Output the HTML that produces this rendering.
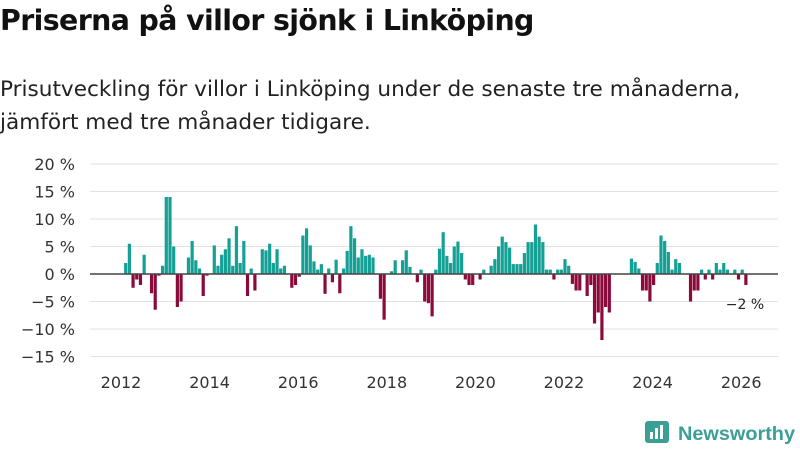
<!DOCTYPE html>
<html><head><meta charset="utf-8"><style>
body{margin:0;width:800px;height:450px;background:#fff;font-family:"Liberation Sans","DejaVu Sans",sans-serif;overflow:hidden;position:relative}
h1{position:absolute;left:0;top:4px;margin:0;font-size:28.4px;font-weight:bold;color:#111;font-family:"DejaVu Sans","Liberation Sans",sans-serif;letter-spacing:-0.6px}
.sub{position:absolute;left:0;top:73px;margin:0;font-size:21.6px;line-height:33px;color:#222;font-family:"DejaVu Sans","Liberation Sans",sans-serif}
svg{position:absolute;left:0;top:0}
</style></head><body>
<h1>Priserna på villor sjönk i Linköping</h1>
<p class="sub">Prisutveckling för villor i Linköping under de senaste tre månaderna,<br>jämfört med tre månader tidigare.</p>
<svg id="chart" width="800" height="450"></svg>
<script>
const values=[2,5.5,-2.5,-1,-2,3.5,0,-3.5,-6.5,-0.3,1.5,14,14,5,-6,-5,0,3,6,2.5,1,-4,-0.3,0,5.2,1.5,3.5,4.5,6.5,1.5,8.7,2,6,-4,1,-3,0,4.5,4.3,5.5,2,4.5,1,1.5,0,-2.5,-2,-0.5,7,8.3,5.2,2.3,0.8,1.8,-3.6,1,-1.5,2.6,-3.5,1,4.2,8.7,6.5,3,4.5,3.3,3.5,3,0,-4.5,-8.3,0,0.5,2.5,0,2.5,4.3,1.3,0,-1.5,0.8,-5,-5.3,-7.7,0.8,4.6,7.6,3.3,2,5,5.9,3.8,-1,-2,-2,0,-1,0.8,0,1.5,2.7,5,6.8,5.8,4.8,1.8,1.8,1.8,3.8,5.8,5.8,9,6.8,5.8,0.8,0.8,-1,0.8,0.8,2.7,1.5,-1.8,-3,-3,0,-4,-2,-9,-7,-12,-6,-7,0,0,0,0,0,2.8,2.2,1,-3,-3,-5,-2,2,7,6,4,0.8,2.7,2,0,0,-5,-3,-3,0.8,-1,0.8,-1,2,0.8,2,0.8,0,0.8,-1,0.8,-2];
const yTicks=[20,15,10,5,0,-5,-10,-15];
const yTickLabels=["20 %","15 %","10 %","5 %","0 %","\u22125 %","\u221210 %","\u221215 %"];
const xTicks=[2012,2014,2016,2018,2020,2022,2024,2026];
const startYear=2012, startMonth=1;
const lastLabel="\u22122 %";
const NS="http://www.w3.org/2000/svg";
const svg=document.getElementById('chart');
const y=v=>274-v*5.5;
const x=m=>121+(m/12)*44.3;
function el(t,a,txt){const e=document.createElementNS(NS,t);for(const k in a)e.setAttribute(k,a[k]);if(txt!=null)e.textContent=txt;svg.appendChild(e);return e;}
yTicks.forEach((t,i)=>{
  const g=el('line',{x1:90,x2:778,y1:y(t),y2:y(t),stroke:'#e2e2e2','stroke-width':1});
  
  
  const l=el('text',{x:75,y:y(t)+6,'text-anchor':'end','font-size':16,fill:'#333','font-family':'DejaVu Sans, Liberation Sans, sans-serif'},yTickLabels[i]);
  
  
});
xTicks.forEach(t=>{
  const l=el('text',{x:x((t-2012)*12),y:388,'text-anchor':'middle','font-size':16,fill:'#333','font-family':'DejaVu Sans, Liberation Sans, sans-serif'},String(t));
  
  
});
values.forEach((v,i)=>{
  const m=(startYear-2012)*12+startMonth+i;
  const cx=x(m)+1;
  const top=Math.min(y(v),y(0)), h=Math.abs(y(v)-y(0));
  const b=el('rect',{x:cx-1.6,y:top,width:3.2,height:h,fill:v>=0?'#15a096':'#8b0a3c'});
  
  
});
const z=el('line',{x1:90,x2:778,y1:y(0),y2:y(0),stroke:'#444','stroke-width':1.6});


const lv=el('text',{x:745,y:309,'text-anchor':'middle','font-size':14,fill:'#222','font-family':'DejaVu Sans, Liberation Sans, sans-serif'},lastLabel);


</script>
<svg width="800" height="450" style="position:absolute;left:0;top:0">
<rect x="645" y="421" width="24" height="22" rx="3" fill="#3a9f95"/>
<rect x="650" y="432" width="3" height="7" fill="#fff"/><rect x="655" y="428" width="3" height="11" fill="#fff"/><rect x="660" y="425" width="3" height="14" fill="#fff"/>
<text x="678" y="440" font-size="19" font-weight="bold" fill="#3a9f95" textLength="117" lengthAdjust="spacingAndGlyphs" font-family="Liberation Sans, DejaVu Sans, sans-serif">Newsworthy</text>
</svg>
</body></html>
